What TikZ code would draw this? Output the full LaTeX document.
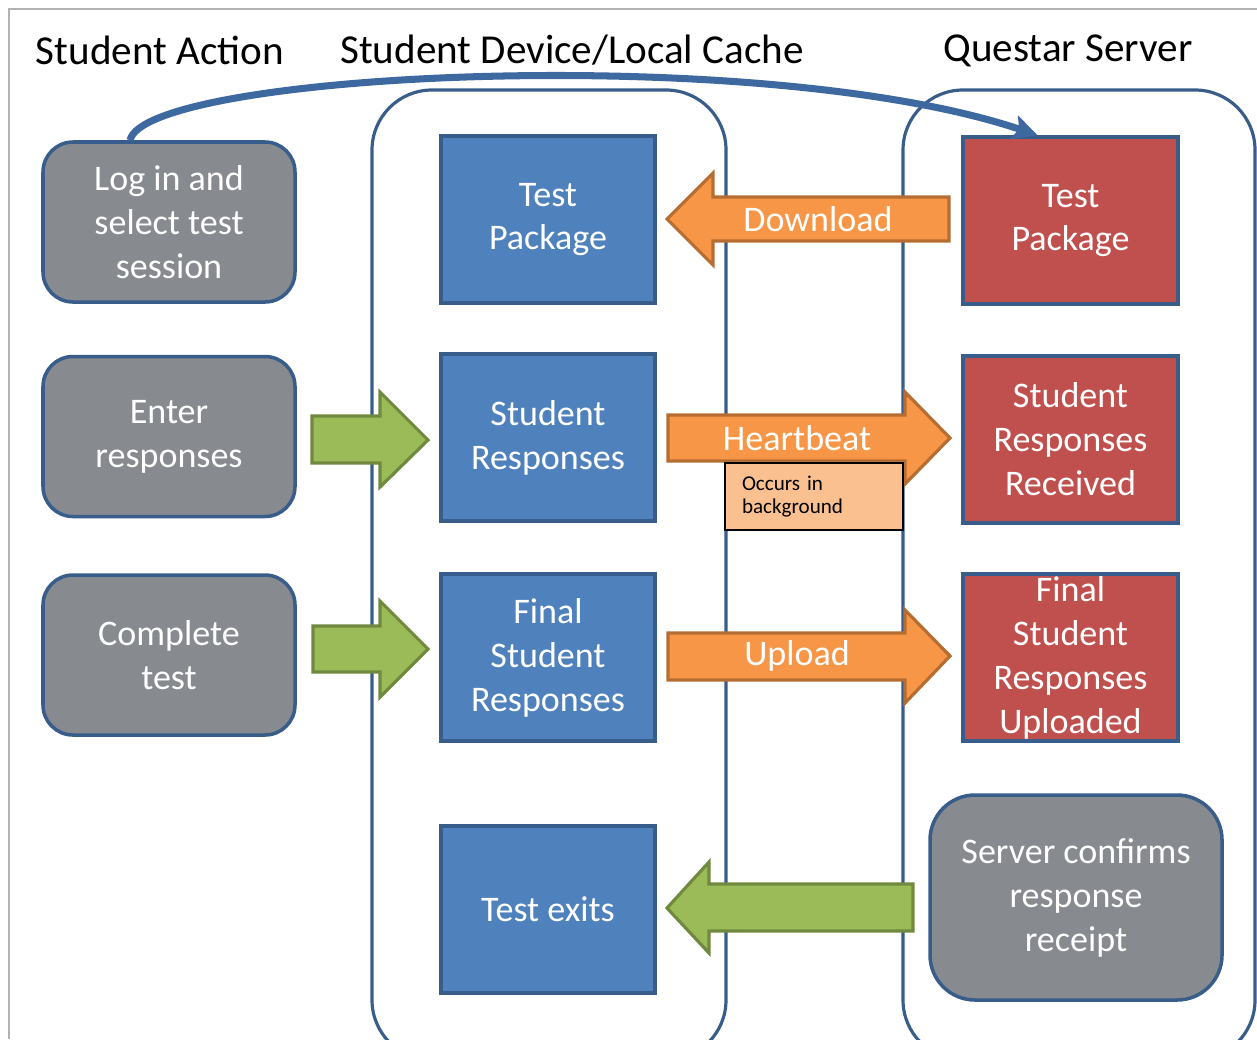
\documentclass[tikz,border=0pt]{standalone}
\usepackage{fontspec}
\setmainfont{Carlito}
\usetikzlibrary{arrows.meta}

\definecolor{edgeblue}{RGB}{56,93,138}
\definecolor{devblue}{RGB}{79,129,189}
\definecolor{srvred}{RGB}{192,80,77}
\definecolor{actgray}{RGB}{135,138,143}
\definecolor{orangefill}{RGB}{247,150,70}
\definecolor{orangeedge}{RGB}{182,109,49}
\definecolor{greenfill}{RGB}{155,187,89}
\definecolor{greenedge}{RGB}{113,137,63}
\definecolor{notefill}{RGB}{250,192,144}
\definecolor{curveblue}{RGB}{62,104,160}

\tikzset{
  boxfont/.style={font=\fontsize{10.25}{12.5}\selectfont},
  header/.style={font=\fontsize{11.7}{14}\selectfont},
  actionbox/.style={boxfont, draw=edgeblue, line width=1pt, fill=actgray, text=white,
    rounded corners=0.3cm, align=center, inner sep=0pt,
    minimum width=2.52cm, minimum height=1.6cm},
  devicebox/.style={boxfont, draw=edgeblue, line width=1pt, fill=devblue, text=white,
    align=center, inner sep=0pt, minimum width=2.14cm, minimum height=1.67cm},
  serverbox/.style={devicebox, fill=srvred, minimum width=2.15cm},
  column/.style={draw=edgeblue, line width=0.9pt, rounded corners=0.6cm},
  orangearrow/.style={draw=orangeedge, line width=0.9pt, fill=orangefill, line join=miter},
  greenarrow/.style={draw=greenedge, line width=0.9pt, fill=greenfill, line join=miter},
  arrowtext/.style={boxfont, text=white, inner sep=0pt},
  notebox/.style={draw=black, line width=0.7pt, fill=notefill, align=left,
    font=\fontsize{6}{6.8}\selectfont, text width=1.44cm, inner xsep=0.17cm,
    inner ysep=0pt, minimum height=0.67cm},
  loginarrow/.style={draw=curveblue, line width=2pt,
    -{Stealth[length=7pt, width=7pt, inset=1.5pt]}}
}

\begin{document}
\begin{tikzpicture}
\useasboundingbox (0,0) rectangle (12.57,-10.39);
\clip (0,0) rectangle (12.57,-10.39);

% frame
\draw[gray!60, line width=0.4pt] (0.09,-10.39)--(0.09,-0.09)--(12.57,-0.09);

% headings
\node[header] (hact) at (1.60,-0.50) {Student Action};
\node[header] (hdev) at (5.72,-0.50) {Student Device/Local Cache};
\node[header] (hsrv) at (10.68,-0.51) {Questar Server};

% columns
\draw[column] (3.72,-10.6) rectangle (7.26,-0.90);
\draw[column] (9.03,-10.6) rectangle (12.55,-0.90);

% student actions
\node[actionbox] (login) at (1.69,-2.22) {Log in and\\select test\\session};
\node[actionbox] (enter) at (1.69,-4.365) {Enter\\responses};
\node[actionbox] (complete) at (1.69,-6.55) {Complete\\test};

% device
\node[devicebox] (devtp) at (5.48,-2.195) {Test\\Package};
\node[devicebox] (devsr) at (5.48,-4.375) {Student\\Responses};
\node[devicebox] (devfsr) at (5.48,-6.575) {Final\\Student\\Responses};
\node[devicebox] (exits) at (5.48,-9.095) {Test exits};

% server
\node[serverbox] (srvtp) at (10.705,-2.205) {Test\\Package};
\node[serverbox] (srvsr) at (10.705,-4.395) {Student\\Responses\\Received};
\node[serverbox] (srvfsr) at (10.705,-6.575) {Final\\Student\\Responses\\Uploaded};
\node[actionbox, rounded corners=0.45cm, minimum width=2.92cm, minimum height=2.05cm]
  (confirm) at (10.76,-8.975) {Server confirms\\response\\receipt};

% green arrows
\draw[greenarrow] (3.12,-4.16)--(3.80,-4.16)--(3.80,-3.92)--(4.28,-4.40)
  --(3.80,-4.87)--(3.80,-4.63)--(3.12,-4.63)--cycle;
\draw[greenarrow] (3.13,-6.26)--(3.80,-6.26)--(3.80,-6.01)--(4.28,-6.49)
  --(3.80,-6.97)--(3.80,-6.72)--(3.13,-6.72)--cycle;
\draw[greenarrow] (9.13,-8.84)--(7.09,-8.84)--(7.09,-8.62)--(6.67,-9.08)
  --(7.09,-9.53)--(7.09,-9.31)--(9.13,-9.31)--cycle;

% orange arrows
\draw[orangearrow] (9.49,-1.97)--(7.13,-1.97)--(7.13,-1.73)--(6.67,-2.19)
  --(7.13,-2.65)--(7.13,-2.41)--(9.49,-2.41)--cycle;
\node[arrowtext] (download) at (8.18,-2.19) {Download};
\draw[orangearrow] (6.68,-4.15)--(9.05,-4.15)--(9.05,-3.92)--(9.50,-4.38)
  --(9.05,-4.84)--(9.05,-4.61)--(6.68,-4.61)--cycle;
\node[arrowtext] (heartbeat) at (7.97,-4.38) {Heartbeat};
\draw[orangearrow] (6.68,-6.33)--(9.05,-6.33)--(9.05,-6.10)--(9.50,-6.56)
  --(9.05,-7.03)--(9.05,-6.80)--(6.68,-6.80)--cycle;
\node[arrowtext] (upload) at (7.97,-6.56) {Upload};

% note
\node[notebox] (note) at (8.14,-4.965) {Occurs in\\background};

% log in to server
\draw[loginarrow] ([xshift=-0.39cm]login.north) .. controls (1.45,-0.72) and (7.60,-0.42)
  .. ([xshift=-0.33cm]srvtp.north);
\end{tikzpicture}
\end{document}
